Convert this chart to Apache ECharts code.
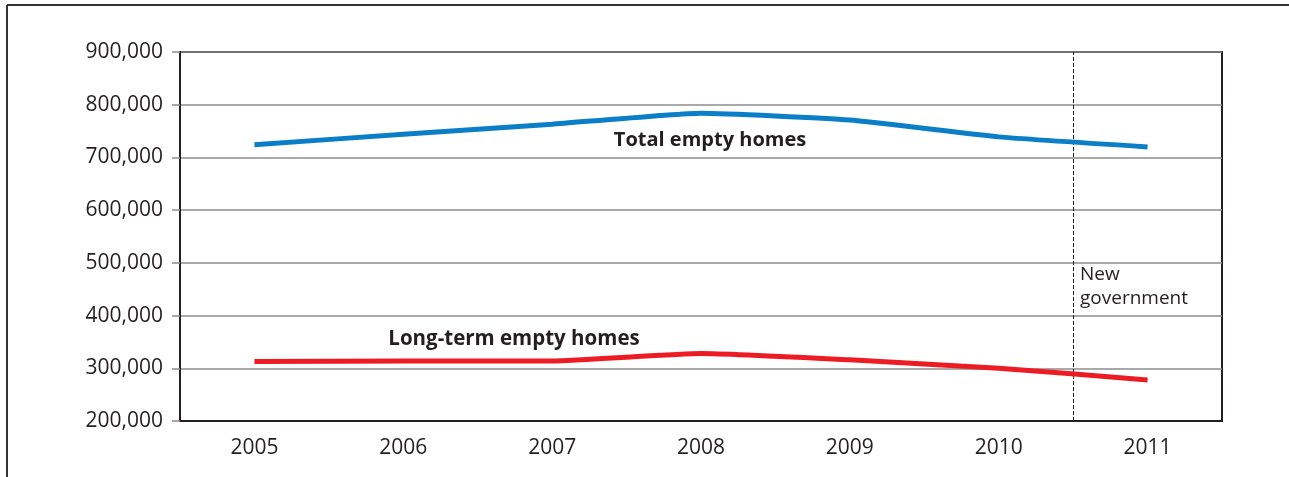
<!DOCTYPE html>
<html>
<head>
<meta charset="utf-8">
<script src="https://cdn.jsdelivr.net/npm/echarts@6/dist/echarts.min.js"></script>
<style>html,body{margin:0;padding:0;background:#fff;}#c{width:1289px;height:477px;}</style>
</head>
<body>
<div id="c"></div>
<script>
var years = ['2005', '2006', '2007', '2008', '2009', '2010', '2011'];
var totalEmpty = [724000, 744000, 763000, 784000, 771000, 739000, 720000];
var longTermEmpty = [313000, 314000, 314000, 328000, 316000, 300000, 278000];
var yTicks = { min: 200000, max: 900000, interval: 100000 };
var newGovAt = 5.5; // between 2010 and 2011 (category index)

var font = '"Open Sans", "Noto Sans", sans-serif';
var chart = echarts.init(document.getElementById('c'), null, { renderer: 'canvas' });
chart.setOption({
  animation: false,
  backgroundColor: '#ffffff',
  grid: { left: 180, right: 67, top: 52, bottom: 56, show: true, borderColor: '#231f20', borderWidth: 2, backgroundColor: 'transparent' },
  xAxis: [{
    type: 'category', data: years, boundaryGap: true,
    axisLine: { show: true, onZero: false, lineStyle: { color: '#231f20', width: 2 } },
    axisTick: { show: false },
    axisLabel: { color: '#231f20', fontFamily: font, fontSize: 21, margin: 17 },
    splitLine: { show: false }
  }, {
    type: 'value', min: -0.5, max: 6.5, show: false, position: 'bottom',
    axisLine: { show: false }, splitLine: { show: false }
  }],
  yAxis: {
    type: 'value', min: yTicks.min, max: yTicks.max, interval: yTicks.interval,
    axisLine: { show: true, onZero: false, lineStyle: { color: '#231f20', width: 2 } },
    axisTick: { show: true, length: 8, lineStyle: { color: '#8c8c8c', width: 1.5 } },
    axisLabel: {
      color: '#231f20', fontFamily: font, fontSize: 21, margin: 17,
      formatter: function (v) { return v.toLocaleString('en-US'); }
    },
    splitLine: { show: true, lineStyle: { color: '#8c8c8c', width: 1.5 } }
  },
  series: [{
    name: 'Total empty homes', type: 'line', data: totalEmpty, smooth: 0.15,
    symbol: 'none', lineStyle: { color: '#0a7fc8', width: 5, cap: 'butt' }, z: 5
  }, {
    name: 'Long-term empty homes', type: 'line', data: longTermEmpty, smooth: 0.15,
    symbol: 'none', lineStyle: { color: '#ed1c24', width: 5, cap: 'butt' }, z: 5
  }, {
    name: 'marker', type: 'line', xAxisIndex: 1, data: [], symbol: 'none',
    markLine: {
      silent: true, symbol: 'none', label: { show: false },
      lineStyle: { color: '#231f20', type: [4, 2], width: 1 },
      data: [{ xAxis: newGovAt }]
    }, z: 6
  }],
  graphic: [
    { type: 'line', shape: { x1: 7, y1: 5, x2: 1289, y2: 5 }, style: { stroke: '#333', lineWidth: 2 } },
    { type: 'line', shape: { x1: 7, y1: 5, x2: 7, y2: 477 }, style: { stroke: '#333', lineWidth: 2 } },
    { type: 'text', x: 710, y: 140, style: { text: 'Total empty homes', font: 'bold 20px ' + font, fill: '#231f20', textAlign: 'center', textVerticalAlign: 'middle' } },
    { type: 'text', x: 514, y: 339, style: { text: 'Long-term empty homes', font: 'bold 20.5px ' + font, fill: '#231f20', textAlign: 'center', textVerticalAlign: 'middle' } },
    { type: 'text', x: 1080, y: 263, style: { text: 'New\ngovernment', font: '19px ' + font, lineHeight: 24, fill: '#231f20', textAlign: 'left', textVerticalAlign: 'top' } }
  ]
});
</script>
</body>
</html>
